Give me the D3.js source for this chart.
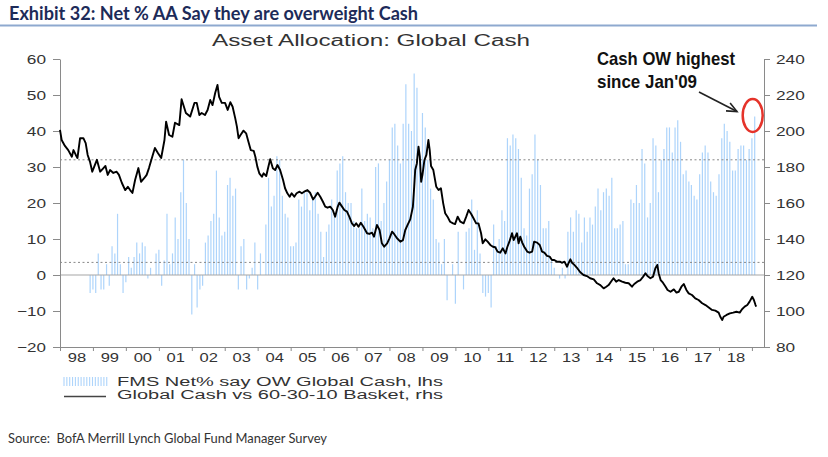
<!DOCTYPE html>
<html><head><meta charset="utf-8">
<script src="https://cdn.jsdelivr.net/npm/d3@7"></script>
<style>body{margin:0;background:#fff} svg{display:block}</style>
</head><body>
<svg id="c" width="828" height="457"></svg>
<script>
// ---------- DATA ----------
const barStartMonth = "1998-12"; // monthly survey readings from this month
const barValues = [
 -5,
 -4,-5,6,-4,-4,3,-3,8,6,17,3,-5,
 -2,5,2,5,9,6,9,8,-1,2,0,6,
 7,-3,4,17,3,6,16,10,23,32,20,10,
 -11,3,-9,-4,-3,9,11,15,17,29,16,11,
 12,25,27,22,24,-4,8,10,-4,-1,2,9,
 -4,6,0,14,27,19,22,33,32,22,17,16,
 8,8,9,21,19,23,23,18,21,23,17,12,
 5,12,14,21,17,29,31,33,23,20,20,15,
 13,13,24,15,17,16,13,30,31,15,20,26,
 32,41,42,36,31,42,53,42,40,56,52,32,
 45,41,32,24,21,10,9,3,10,-7,0,3,
 -8,12,0,-4,12,13,21,7,18,6,-5,-6,
 -5,-9,14,8,10,18,15,38,36,39,38,35,
 27,13,11,24,28,39,32,25,13,13,15,4,
 2,0,-1,2,-1,12,16,12,18,17,9,16,
 12,16,14,19,24,18,23,24,22,27,13,13,
 14,15,3,3,21,20,25,20,35,31,16,20,
 38,36,23,32,35,41,41,34,41,43,37,28,
 29,26,25,22,21,28,34,36,34,26,23,22,
 28,38,42,40,37,29,29,35,36,36,32,35,
 38,44
];
const lineYears = [
 1998.00,1998.05,1998.15,1998.25,1998.36,1998.41,1998.48,1998.53,1998.61,1998.71,1998.78,1998.84,1998.91,1998.98,
 1999.04,1999.12,1999.22,1999.32,1999.38,1999.45,1999.52,1999.62,1999.72,1999.79,1999.88,1999.98,
 2000.06,2000.13,2000.20,2000.28,2000.38,2000.46,2000.56,2000.63,2000.70,2000.80,2000.88,2000.97,
 2001.07,2001.17,2001.22,2001.31,2001.41,2001.49,2001.62,2001.69,2001.82,2001.95,
 2002.08,2002.15,2002.23,2002.30,2002.40,2002.48,2002.56,2002.63,2002.71,2002.78,2002.83,2002.91,
 2003.01,2003.09,2003.17,2003.24,2003.32,2003.37,2003.42,2003.48,2003.57,2003.65,2003.72,2003.79,2003.88,2003.93,2003.99,
 2004.05,2004.13,2004.18,2004.26,2004.33,2004.38,2004.46,2004.53,2004.60,2004.68,2004.77,2004.83,2004.90,2004.97,
 2005.03,2005.11,2005.18,2005.27,2005.34,2005.41,2005.51,2005.59,2005.68,2005.74,2005.82,2005.90,2005.98,
 2006.05,2006.12,2006.20,2006.28,2006.35,2006.43,2006.48,2006.56,2006.63,2006.71,2006.78,2006.86,2006.93,2006.99,
 2007.06,2007.13,2007.21,2007.32,2007.39,2007.47,2007.53,2007.62,2007.70,2007.77,2007.84,2007.93,
 2008.00,2008.08,2008.14,2008.23,2008.33,2008.41,2008.48,2008.55,2008.63,2008.71,2008.75,2008.78,2008.83,2008.88,2008.92,2008.96,
 2009.00,2009.06,2009.12,2009.18,2009.22,2009.26,2009.33,2009.42,2009.49,2009.56,2009.63,2009.69,2009.76,2009.84,2009.93,2009.99,
 2010.07,2010.15,2010.25,2010.33,2010.40,2010.48,2010.55,2010.63,2010.70,2010.78,2010.83,2010.91,2010.98,
 2011.06,2011.14,2011.21,2011.28,2011.36,2011.44,2011.52,2011.58,2011.64,2011.72,2011.77,2011.82,2011.87,2011.92,2011.97,
 2012.03,2012.09,2012.18,2012.25,2012.33,2012.39,2012.48,2012.56,2012.63,2012.70,2012.78,2012.86,2012.93,
 2013.00,2013.08,2013.17,2013.23,2013.31,2013.39,2013.43,2013.49,2013.54,2013.61,2013.69,2013.79,2013.89,2013.99,
 2014.09,2014.20,2014.30,2014.40,2014.50,2014.58,2014.65,2014.76,2014.80,2014.88,2014.96,
 2015.06,2015.16,2015.26,2015.36,2015.43,2015.52,2015.62,2015.70,2015.77,2015.83,2015.92,
 2016.00,2016.07,2016.13,2016.17,2016.23,2016.30,2016.38,2016.44,2016.53,2016.63,2016.71,2016.78,2016.86,2016.93,
 2017.01,2017.08,2017.18,2017.28,2017.38,2017.49,2017.59,2017.69,2017.79,2017.89,2017.99,
 2018.04,2018.10,2018.14,2018.23,2018.33,2018.43,2018.53,2018.63,2018.70,2018.78,2018.86,2018.93,
 2019.01,2019.06,2019.11,2019.13
];
const lineValues = [
 200.6,195,191.7,189.4,185.7,189.4,186.7,185,196,196,193.3,186.7,183,177.4,
 180.2,184,177.4,179.4,180.6,175.6,178.3,176.7,177.4,175.6,171.1,167.2,
 169,167.2,165.6,172.8,179.4,171.8,173.9,175.6,179.4,185.7,190.6,187.8,
 185,195,205.2,197.8,196.8,204.6,203.3,217.6,210,208,
 215.6,215.6,208.9,210,208.9,211.7,217.2,214.4,221.1,225.6,219,215.6,
 215.6,211.7,216,213.5,207,202.4,196,197.8,200.2,198.7,194,189.4,189,185.7,180.2,
 176.5,174.6,176.5,175,180.6,184.3,179.3,178.3,181.1,178.3,172.8,168.2,165.4,163.5,
 165.4,163.5,165.4,166.3,165.4,166.3,167.2,165.7,162,163.5,165.7,163.5,160.7,
 158,157.4,158,156.1,152.4,158,160.2,158,156.1,155.2,152.4,148.7,147.2,148.7,
 146.8,149,146.8,143.2,142.8,143.5,141.3,147.8,145,137.6,135.7,137.6,
 140.4,144.1,142.8,140.4,138.5,139.4,145,147.8,150.9,157.9,169,178.3,182,191.3,185.7,171.8,
 175.6,183.9,186.7,195,189.4,180.6,178.3,169,167.2,168.2,159.8,154.3,152.4,149.6,148.7,148.3,
 152.4,149.6,148.7,152.4,156.1,153.9,151.5,148.7,148.7,143.2,137.6,139.8,138.5,
 136.7,135.7,135.4,133,132.4,134.8,132,135.7,138.5,143.2,139.4,141.3,143.2,137.6,141.3,
 138,135.7,133,132.4,133,138.5,138,136.7,133,132.4,130.6,130.2,128.3,
 128.3,127.4,127.4,126.8,127.4,124.6,126.5,128.7,126.8,125.6,124,121.5,120,119.4,
 118.2,117.6,115.4,114.4,112.6,113.5,114.4,117.2,118.2,116.3,117.2,
 116.3,115.7,115.4,113.5,115,116.3,117.2,119.1,121,119.4,118.2,
 119.1,123.7,125.6,121,117.2,115.7,113.5,111.7,110.7,112,110.2,110.7,113.5,115,
 111.7,109.8,108.9,107,106.1,104.3,103.3,102,100.6,100.2,99.1,
 96.8,95,96.8,97.8,98.7,99.1,99.6,99.1,101,102.4,103.3,105.2,
 107.9,106.1,103.3,102.4
];
const leftTicks = [-20,-10,0,10,20,30,40,50,60];
const rightTicks = [80,100,120,140,160,180,200,220,240];
const axisYears = d3.range(1998, 2020);
const refLevels = [32, 3.5];
const titleText = "Exhibit 32: Net % AA Say they are overweight Cash";
const subtitleText = "Asset Allocation: Global Cash";
const legendLabels = ["FMS Net% say OW Global Cash, lhs", "Global Cash vs 60-30-10 Basket, rhs"];
const annotationLines = ["Cash OW highest", "since Jan'09"];
const sourceText = "Source:  BofA Merrill Lynch Global Fund Manager Survey";

// ---------- LAYOUT ----------
const svg = d3.select("#c");
const X0 = 60, X1 = 764, YT = 59, YB = 347;
const BAR = "#add4fb", AX = "#8a8a8a", TXT = "#333";
const x = d3.scaleTime().domain([new Date(1998,0,1), new Date(2019,4,15)]).range([X0, X1]);
const yL = d3.scaleLinear().domain([-20,60]).range([YB, YT]);
const yR = d3.scaleLinear().domain([80,240]).range([YB, YT]);
const decToDate = v => { const yr = Math.floor(v); const s = new Date(yr,0,1), e = new Date(yr+1,0,1); return new Date(+s + (v-yr)*(e-s)); };
const [by, bm] = barStartMonth.split("-").map(Number);
const bars = barValues.map((v,i) => ({date: new Date(by, bm-1+i, 1), v}));
const linePts = lineYears.map((yv,i) => ({date: decToDate(yv), v: lineValues[i]}));

function stretch(sel, perDigit){
  sel.each(function(){
    const t = this.textContent; let w = 0;
    for (const ch of t) w += (ch === "-") ? 6 : perDigit;
    this.setAttribute("textLength", w);
    this.setAttribute("lengthAdjust", "spacingAndGlyphs");
  });
}

// Title
svg.append("text").attr("x",9).attr("y",20).text(titleText)
  .attr("font-family","Lato, 'Liberation Sans Narrow', sans-serif").attr("font-weight","bold")
  .attr("font-size",19).attr("fill","#1d2b59").attr("textLength",409).attr("lengthAdjust","spacingAndGlyphs");
svg.append("line").attr("x1",0).attr("x2",817).attr("y1",25.5).attr("y2",25.5)
  .attr("stroke","#8ea9cf").attr("stroke-width",2);
svg.append("text").attr("x",371).attr("y",46).attr("text-anchor","middle").text(subtitleText)
  .attr("font-family","'Liberation Sans', Arial, sans-serif").attr("font-size",16).attr("fill",TXT)
  .attr("textLength",318).attr("lengthAdjust","spacingAndGlyphs");

// Bars
svg.append("g").selectAll("line").data(bars).join("line")
  .attr("x1", d => x(d.date)).attr("x2", d => x(d.date))
  .attr("y1", yL(0)).attr("y2", d => yL(d.v))
  .attr("stroke", BAR).attr("stroke-width", 1.2);

// Reference lines
svg.append("line").attr("x1",X0).attr("x2",X1).attr("y1",yL(0)).attr("y2",yL(0))
  .attr("stroke","#a5a5a5").attr("stroke-width",1);
svg.append("g").selectAll("line").data(refLevels).join("line")
  .attr("x1",X0).attr("x2",X1).attr("y1",d=>yL(d)).attr("y2",d=>yL(d))
  .attr("stroke","#888").attr("stroke-width",1).attr("stroke-dasharray","2,2.5");

// Axes
function styleAxis(g){
  g.selectAll(".domain").attr("stroke",AX);
  g.selectAll(".tick line").attr("stroke",AX);
  g.selectAll("text").attr("fill",TXT).attr("font-size",13).attr("font-family","'Liberation Sans', Arial, sans-serif");
}
const gL = svg.append("g").attr("transform",`translate(${X0},0)`)
  .call(d3.axisLeft(yL).tickValues(leftTicks).tickSize(7).tickSizeOuter(0).tickPadding(7));
styleAxis(gL); stretch(gL.selectAll("text"), 9.6);
const gR = svg.append("g").attr("transform",`translate(${X1},0)`)
  .call(d3.axisRight(yR).tickValues(rightTicks).tickSize(6).tickSizeOuter(0).tickPadding(6));
styleAxis(gR); stretch(gR.selectAll("text"), 9.6);
const gB = svg.append("g").attr("transform",`translate(0,${YB})`)
  .call(d3.axisBottom(x).tickValues(axisYears.map(y=>new Date(y,0,1))).tickSize(4).tickSizeOuter(0).tickFormat(""));
styleAxis(gB);
const gBL = svg.append("g").attr("transform",`translate(0,${YB})`)
  .call(d3.axisBottom(x).tickValues(axisYears.slice(0,-1).map(y=>new Date(y,6,2))).tickSize(0).tickPadding(6).tickFormat(d3.timeFormat("%y")));
gBL.select(".domain").remove();
styleAxis(gBL); stretch(gBL.selectAll("text"), 9.2);

// Line series
svg.append("path").datum(linePts)
  .attr("d", d3.line().x(d=>x(d.date)).y(d=>yR(d.v)))
  .attr("fill","none").attr("stroke","#000").attr("stroke-width",1.9).attr("stroke-linejoin","round");

// Annotation
const ann = svg.append("g").attr("font-family","'Liberation Sans Narrow', 'Liberation Sans', Arial, sans-serif")
  .attr("font-weight","bold").attr("font-size",19).attr("fill","#111");
ann.append("text").attr("x",597).attr("y",65).text(annotationLines[0]).attr("textLength",138).attr("lengthAdjust","spacingAndGlyphs");
ann.append("text").attr("x",597).attr("y",87.5).text(annotationLines[1]).attr("textLength",100).attr("lengthAdjust","spacingAndGlyphs");
const ax1 = 699, ay1 = 92, ax2 = 737, ay2 = 111.5;
svg.append("line").attr("x1",ax1).attr("y1",ay1).attr("x2",ax2).attr("y2",ay2).attr("stroke","#222").attr("stroke-width",1.6);
const ang = Math.atan2(ay2-ay1, ax2-ax1), hl = 11, ha = 0.42;
svg.append("path").attr("d",`M${ax2-hl*Math.cos(ang-ha)},${ay2-hl*Math.sin(ang-ha)}L${ax2},${ay2}L${ax2-hl*Math.cos(ang+ha)},${ay2-hl*Math.sin(ang+ha)}`)
  .attr("fill","none").attr("stroke","#222").attr("stroke-width",1.6);
svg.append("ellipse").attr("cx",752.7).attr("cy",115.5).attr("rx",10).attr("ry",16.5)
  .attr("fill","none").attr("stroke","#e5332a").attr("stroke-width",2.5);

// Legend
const lg = svg.append("g");
lg.selectAll("line.b").data(d3.range(16)).join("line").attr("class","b")
  .attr("x1",d=>64+d*2.85).attr("x2",d=>64+d*2.85).attr("y1",377).attr("y2",386)
  .attr("stroke",BAR).attr("stroke-width",1.1);
lg.append("line").attr("x1",64).attr("x2",106).attr("y1",396.5).attr("y2",396.5).attr("stroke","#444").attr("stroke-width",1.6);
lg.selectAll("text").data(legendLabels).join("text")
  .attr("x",117).attr("y",(d,i)=>386+i*13).text(d=>d)
  .attr("font-family","'Liberation Sans', Arial, sans-serif").attr("font-size",12.5).attr("fill",TXT)
  .attr("textLength",326).attr("lengthAdjust","spacingAndGlyphs");

// Source
svg.append("text").attr("x",8).attr("y",443).text(sourceText).style("white-space","pre")
  .attr("font-family","Lato, 'Liberation Sans Narrow', sans-serif").attr("font-size",12.5).attr("fill",TXT)
  .attr("textLength",319).attr("lengthAdjust","spacingAndGlyphs");
</script>
</body></html>
